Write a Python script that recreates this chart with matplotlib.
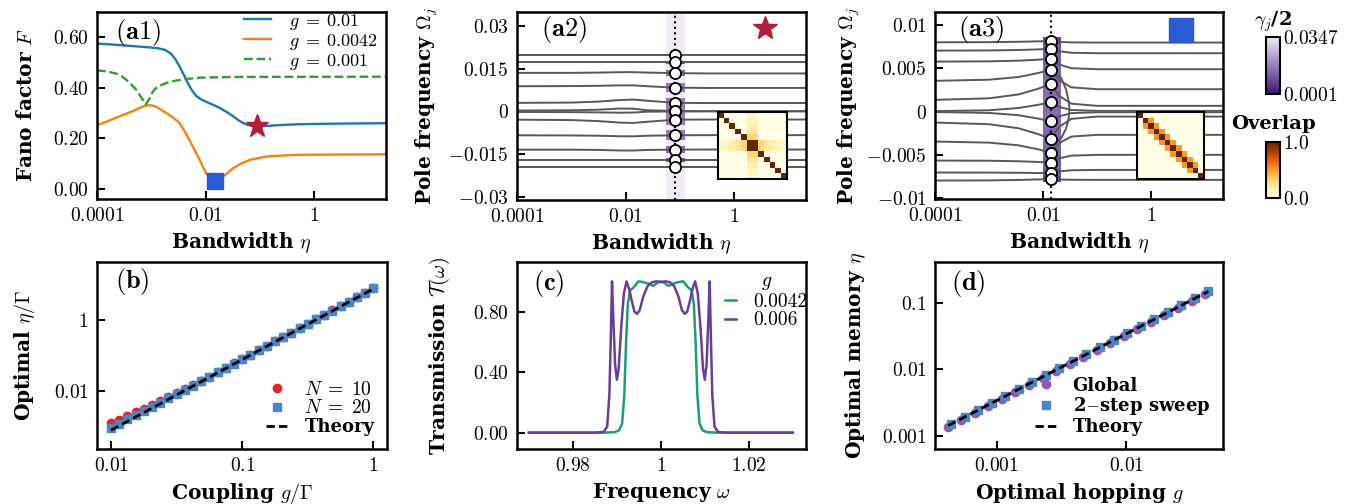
import numpy as np
import matplotlib
matplotlib.use('Agg')
import matplotlib.pyplot as plt
from matplotlib.colors import LogNorm, Normalize, LinearSegmentedColormap
from matplotlib.cm import ScalarMappable

plt.rcParams['font.family'] = 'serif'
plt.rcParams['font.serif'] = ['cmr10']
plt.rcParams['mathtext.fontset'] = 'cm'
plt.rcParams['axes.unicode_minus'] = False
plt.rcParams['axes.linewidth'] = 1.8
plt.rcParams['xtick.direction'] = 'in'
plt.rcParams['ytick.direction'] = 'in'
plt.rcParams['xtick.major.size'] = 6
plt.rcParams['ytick.major.size'] = 6
plt.rcParams['xtick.major.width'] = 1.5
plt.rcParams['ytick.major.width'] = 1.5
plt.rcParams['xtick.minor.size'] = 0
plt.rcParams['ytick.minor.size'] = 0
plt.rcParams['xtick.labelsize'] = 14
plt.rcParams['ytick.labelsize'] = 14
plt.rcParams['xtick.major.pad'] = 6
plt.rcParams['ytick.major.pad'] = 6

# ---------------- data ----------------
# (a1) Fano factor vs bandwidth
eta_g01 = [1e-4, 2e-4, 4e-4, 8e-4, 1.3e-3, 1.8e-3, 2.3e-3, 2.8e-3, 3.3e-3, 4e-3, 4.8e-3, 5.6e-3, 6.8e-3,
           8.3e-3, 0.0102, 0.013, 0.018, 0.025, 0.032, 0.04, 0.049, 0.06, 0.076, 0.1, 0.13, 0.25, 0.55, 2, 21]
F_g01 = [0.575, 0.571, 0.566, 0.561, 0.557, 0.550, 0.535, 0.512, 0.485, 0.45, 0.415, 0.39, 0.367,
         0.354, 0.345, 0.335, 0.321, 0.303, 0.288, 0.272, 0.261, 0.253, 0.249, 0.248, 0.249, 0.253, 0.256, 0.258, 0.26]
eta_g0042 = [1e-4, 1.5e-4, 2.2e-4, 3.2e-4, 4.5e-4, 6e-4, 7.9e-4, 1e-3, 1.23e-3, 1.5e-3, 1.86e-3, 2.5e-3,
             3.3e-3, 4e-3, 5e-3, 6.3e-3, 7.8e-3, 9e-3, 0.0102, 0.012, 0.0147, 0.017, 0.021, 0.026, 0.032,
             0.045, 0.065, 0.13, 0.3, 0.55, 21]
F_g0042 = [0.252, 0.266, 0.281, 0.295, 0.307, 0.32, 0.33, 0.331, 0.325, 0.314, 0.301, 0.283,
           0.261, 0.232, 0.195, 0.152, 0.115, 0.085, 0.062, 0.045, 0.032, 0.037, 0.049, 0.065, 0.082,
           0.1, 0.115, 0.128, 0.133, 0.135, 0.137]
eta_g001 = [1e-4, 1.5e-4, 2.2e-4, 2.8e-4, 3.4e-4, 4.2e-4, 5.2e-4, 6.1e-4, 6.9e-4, 7.9e-4, 9.1e-4, 1e-3,
            1.15e-3, 1.35e-3, 1.6e-3, 2.1e-3, 2.9e-3, 4.5e-3, 7.8e-3, 0.032, 21]
F_g001 = [0.469, 0.465, 0.457, 0.447, 0.433, 0.415, 0.394, 0.372, 0.354, 0.334, 0.354, 0.375,
          0.394, 0.405, 0.413, 0.422, 0.429, 0.435, 0.44, 0.443, 0.444]
star_pt = (0.087, 0.248)
square_pt = (0.0147, 0.033)

# (a2) pole trajectories, g = 0.01
eta_nodes_a2 = [1e-4, 1e-3, 3.16e-3, 7.94e-3, 0.0141, 0.0251, 0.082, 0.316, 22.4]
poles_a2 = [
    [19.7, 19.7, 19.7, 19.7, 19.7, 19.7, 19.7, 19.7, 19.7],
    [17.2, 17.2, 17.2, 17.2, 17.2, 17.2, 17.2, 17.2, 17.2],
    [13.5, 13.5, 13.6, 13.75, 13.75, 13.6, 13.4, 13.3, 13.3],
    [8.8, 8.85, 8.95, 9.1, 9.1, 8.8, 8.3, 8.2, 8.2],
    [2.95, 3.05, 3.4, 3.95, 4.1, 3.7, 2.95, 2.9, 2.9],
    [0.25, 0.35, 0.55, 0.95, 0.9, 0.35, 0.1, 0.0, 0.0],
    [-0.25, -0.3, -0.4, -0.5, -0.45, -0.15, -0.1, 0.0, 0.0],
    [-2.95, -3.1, -3.45, -4.0, -4.1, -3.7, -2.95, -2.9, -2.9],
    [-8.45, -8.5, -8.6, -8.8, -8.8, -8.6, -8.45, -8.4, -8.4],
    [-13.5, -13.5, -13.6, -13.8, -13.8, -13.6, -13.5, -13.45, -13.45],
    [-17.25, -17.25, -17.25, -17.25, -17.25, -17.25, -17.25, -17.25, -17.25],
    [-19.7, -19.7, -19.7, -19.7, -19.7, -19.7, -19.7, -19.7, -19.7],
]
eta_opt_a2 = 0.082
omega_a2 = [19.7, 17.2, 13.4, 8.3, 2.95, 0.1, 0.0, -2.95, -8.45, -13.5, -17.25, -19.7]
halfgamma_a2 = [0.0003, 0.0006, 0.0010, 0.0017, 0.0018, 0.0019, 0.0347, 0.0018, 0.0017, 0.0012, 0.0007, 0.0003]
star_a2 = (3.75, 0.0294)

# (a3) pole trajectories, g = 0.0042
eta_nodes_a3 = [1e-4, 1e-3, 3.5e-3, 7.9e-3, 0.0137, 0.02, 0.033, 0.1, 22]
poles_a3 = [
    [8.0, 8.02, 8.06, 8.11, 8.16, 8.05, 7.99, 7.97, 7.97],
    [7.04, 7.06, 7.11, 7.18, 7.24, 6.97, 6.79, 6.74, 6.74],
    [5.77, 5.8, 5.88, 5.99, 6.08, 5.43, 5.01, 4.89, 4.89],
    [3.55, 3.68, 3.99, 4.44, 4.82, 3.59, 2.8, 2.58, 2.58],
    [1.35, 1.53, 1.98, 2.62, 3.16, 1.79, 0.91, 0.66, 0.66],
    [0.05, 0.15, 0.41, 0.77, 1.08, 0.53, 0.18, 0.08, 0.08],
    [-0.05, -0.16, -0.42, -0.8, -1.12, -0.55, -0.18, -0.08, -0.08],
    [-1.27, -1.46, -1.93, -2.59, -3.16, -1.74, -0.84, -0.58, -0.58],
    [-3.46, -3.59, -3.9, -4.35, -4.73, -3.61, -2.89, -2.69, -2.69],
    [-5.66, -5.68, -5.74, -5.82, -5.89, -5.4, -5.09, -5.0, -5.0],
    [-7.04, -7.05, -7.07, -7.1, -7.12, -6.91, -6.78, -6.74, -6.74],
    [-7.97, -7.95, -7.9, -7.84, -7.78, -7.84, -7.88, -7.89, -7.89],
]
arc_eta_a3 = [0.0158, 0.0214, 0.0263, 0.0295, 0.0305, 0.0295, 0.0263, 0.0214, 0.0162]
arc_omega_a3 = [4.6, 3.9, 2.6, 1.2, 0.3, -0.8, -2.0, -3.1, -3.65]
eta_opt_a3 = 0.0137
omega_a3 = [8.16, 7.24, 6.08, 4.82, 3.16, 1.08, -1.12, -3.16, -4.73, -5.89, -7.12, -7.78]
halfgamma_a3 = [0.0004, 0.0006, 0.0007, 0.0009, 0.0011, 0.0011, 0.0011, 0.0010, 0.0008, 0.0007, 0.0006, 0.0003]
square_a3 = (3.54, 0.00943)

# overlap matrices (insets)
cross_a2 = [0.1, 0.13, 0.17, 0.22, 0.3, 1.0, 1.0, 0.3, 0.22, 0.17, 0.13, 0.1]
offdiag_a3 = [0, 0.5, 0.5, 0.5, 0.5, 0.5, 0.5, 0.5, 0.5, 0.5, 0]

# (b) optimal bandwidth vs coupling
g_b = [0.0100, 0.01155, 0.01334, 0.0154, 0.01778, 0.02054, 0.02371, 0.02738, 0.03162, 0.03652, 0.04217,
       0.0487, 0.05623, 0.06494, 0.07499, 0.0866, 0.1, 0.1155, 0.1334, 0.154, 0.1778, 0.2054, 0.2371,
       0.2738, 0.3162, 0.3652, 0.4217, 0.487, 0.5623, 0.6494, 0.7499, 0.866, 1.0]
eta_N10 = [0.00118, 0.00150, 0.00192, 0.00245, 0.00312, 0.00401, 0.00513, 0.00661, 0.00851, 0.0111, 0.0145,
           0.0189, 0.0248, 0.0330, 0.0440, 0.0587, 0.0783, 0.104, 0.139, 0.186, 0.247, 0.330, 0.440,
           0.587, 0.783, 1.04, 1.39, 1.86, 2.47, 3.30, 4.40, 5.87, 7.83]
eta_N20 = [0.00090, 0.00117, 0.00153, 0.00200, 0.00262, 0.00346, 0.00457, 0.00604, 0.00798, 0.0105, 0.0140,
           0.0186, 0.0247, 0.0329, 0.0438, 0.0584, 0.0778, 0.104, 0.138, 0.184, 0.246, 0.328, 0.437,
           0.583, 0.777, 1.04, 1.38, 1.84, 2.46, 3.28, 4.37, 5.83, 7.77]
g_theory_b = [0.01, 1.0]
eta_theory_b = [0.00076, 7.6]

# (c) transmission spectra
omega_c1 = [0.970, 0.987, 0.9895, 0.9905, 0.9912, 0.9917, 0.9921, 0.9925, 0.9930, 0.9938, 0.9949, 0.9960,
            0.9972, 0.9983, 0.9992, 1.0000, 1.0008, 1.0017, 1.0028, 1.0040, 1.0051, 1.0062, 1.0070,
            1.0075, 1.0079, 1.0083, 1.0088, 1.0095, 1.0105, 1.013, 1.030]
T_c1 = [0.0, 0.0, 0.003, 0.015, 0.06, 0.25, 0.60, 0.85, 0.94, 0.96, 1.0, 0.995, 0.985, 0.97, 0.99, 1.0,
        0.99, 0.97, 0.985, 0.995, 1.0, 0.96, 0.94, 0.85, 0.60, 0.25, 0.06, 0.015, 0.003, 0.0, 0.0]
omega_c2 = [0.970, 0.985, 0.9870, 0.9878, 0.9883, 0.9886, 0.9889, 0.9892, 0.9896, 0.9900, 0.9904, 0.9910,
            0.9916, 0.9922, 0.9928, 0.9934, 0.9940, 0.9946, 0.9952, 0.9960, 0.9970, 0.9980, 0.9990,
            1.0000, 1.0010, 1.0020, 1.0030, 1.0040, 1.0048, 1.0054, 1.0060, 1.0066, 1.0072, 1.0078,
            1.0084, 1.0090, 1.0096, 1.0100, 1.0104, 1.0108, 1.0111, 1.0114, 1.0117, 1.0122, 1.0130,
            1.015, 1.030]
T_c2 = [0.0, 0.0, 0.005, 0.04, 0.25, 0.60, 1.0, 0.75, 0.45, 0.35, 0.42, 0.70, 0.92, 1.0, 0.95, 0.87, 0.80,
        0.785, 0.81, 0.90, 0.97, 0.995, 1.0, 0.995, 1.0, 0.995, 0.97, 0.90, 0.81, 0.785, 0.80, 0.87, 0.95,
        1.0, 0.92, 0.70, 0.42, 0.35, 0.45, 0.75, 1.0, 0.60, 0.25, 0.04, 0.005, 0.0, 0.0]

# (d) optimal memory vs hopping
g_global = [4.19e-4, 5.33e-4, 6.78e-4, 8.63e-4, 1.096e-3, 1.396e-3, 1.778e-3, 2.265e-3, 2.88e-3, 3.66e-3,
            4.66e-3, 5.93e-3, 7.55e-3, 9.62e-3, 0.01222, 0.01556, 0.0198, 0.0252, 0.0321, 0.0409]
eta_global = [0.00138, 0.00176, 0.00224, 0.00285, 0.00362, 0.00461, 0.00587, 0.00747, 0.00950, 0.01208,
              0.01538, 0.01957, 0.0249, 0.0317, 0.0403, 0.0513, 0.0653, 0.0832, 0.1059, 0.1350]
g_sweep = [4.436e-4, 5.65e-4, 7.18e-4, 9.14e-4, 1.161e-3, 1.479e-3, 1.884e-3, 2.399e-3, 3.05e-3, 3.88e-3,
           4.94e-3, 6.28e-3, 8.00e-3, 0.01019, 0.01294, 0.01648, 0.0210, 0.0267, 0.0340, 0.0433]
eta_sweep = [0.00153, 0.00195, 0.00248, 0.00315, 0.00401, 0.00510, 0.00650, 0.00828, 0.01052, 0.01339,
             0.01704, 0.02167, 0.0276, 0.0352, 0.0446, 0.0569, 0.0725, 0.0921, 0.1173, 0.1494]
g_theory_d = [4.2e-4, 0.0433]
eta_theory_d = [0.00143, 0.147]

# ---------------- figure ----------------
W, H = 1354, 504
fig = plt.figure(figsize=(W / 100, H / 100), dpi=100)


def box(x0, x1, y0, y1):
    return [x0 / W, 1 - y1 / H, (x1 - x0) / W, (y1 - y0) / H]


BF = 'DejaVu Serif'
bold = dict(family=BF, fontweight='bold', fontsize=14.5)
leg_bold = dict(family=BF, weight='bold', size=13)
plabel = dict(fontsize=19, va='center', ha='left')

gam_cmap = LinearSegmentedColormap.from_list('gam', ['#3d1470', '#7b5aa6', '#b5a3d3', '#f1ebf8'])
gam_norm = LogNorm(1e-4, 0.0347)
line_col = '#585858'

ax1 = fig.add_axes(box(97, 386, 12, 199))
ax2 = fig.add_axes(box(517, 806, 12, 200))
ax3 = fig.add_axes(box(935, 1223, 12, 199))
axb = fig.add_axes(box(97, 387, 262, 449))
axc = fig.add_axes(box(517, 806, 262, 449))
axd = fig.add_axes(box(935, 1223, 262, 449))

# (a1)
ax1.plot(eta_g01, F_g01, color='#1f77b4', lw=1.7, label=r'$g\;=\;0.01$')
ax1.plot(eta_g0042, F_g0042, color='#ff7f0e', lw=1.7, label=r'$g\;=\;0.0042$')
ax1.plot(eta_g001, F_g001, color='#2ca02c', lw=1.7, ls='--', label=r'$g\;=\;0.001$')
ax1.plot(*star_pt, marker='*', ms=17, color='#b31e3d', zorder=5)
ax1.plot(*square_pt, marker='s', ms=11.5, color='#2a5bd7', zorder=5)
ax1.set_xscale('log')
ax1.set_xlim(1e-4, 21)
ax1.set_ylim(-0.04, 0.70)
ax1.set_yticks([0, 0.2, 0.4, 0.6], labels=['$0.00$', '$0.20$', '$0.40$', '$0.60$'])
ax1.legend(loc='upper right', bbox_to_anchor=(1.01, 1.06), frameon=False, fontsize=13, handlelength=1.5,
           labelspacing=0.0, borderaxespad=0.2, handletextpad=1.0)
ax1.set_ylabel(r'Fano factor $F$', labelpad=12, **bold)
ax1.text(0.062, 0.893, r'$(\mathbf{a1})$', transform=ax1.transAxes, **plabel)


def pole_panel(ax, eta_nodes, poles, eta_opt, omega, halfgamma, band):
    order = np.argsort(halfgamma)[::-1]
    for j in order:
        ax.fill_between([eta_opt / band[0], eta_opt * band[1]],
                        omega[j] * 1e-3 - halfgamma[j], omega[j] * 1e-3 + halfgamma[j],
                        color=gam_cmap(gam_norm(halfgamma[j])), lw=0, zorder=1)
    for p in poles:
        ax.plot(eta_nodes, np.array(p) * 1e-3, color=line_col, lw=1.4, zorder=2)
    ax.axvline(eta_opt, color='k', ls=':', lw=1.5, zorder=3)
    ax.plot([eta_opt] * len(omega), np.array(omega) * 1e-3, 'o', ms=8, mfc='white', mec='k',
            mew=1.3, zorder=4)
    ax.set_xscale('log')
    ax.set_xlim(1e-4, 21)


pole_panel(ax2, eta_nodes_a2, poles_a2, eta_opt_a2, omega_a2, halfgamma_a2, (1.5, 1.5))
ax2.plot(*star_a2, marker='*', ms=18, color='#b31e3d', zorder=5)
ax2.set_ylim(-0.0312, 0.0349)
ax2.set_yticks([-0.03, -0.015, 0, 0.015, 0.03],
               labels=['$-0.03$', '$-0.015$', '$0$', '$0.015$', '$0.03$'])
ax2.text(0.082, 0.905, r'$(\mathbf{a2})$', transform=ax2.transAxes, **plabel)

pole_panel(ax3, eta_nodes_a3, poles_a3, eta_opt_a3, omega_a3, halfgamma_a3, (1.4, 1.57))
ax3.plot(arc_eta_a3, np.array(arc_omega_a3) * 1e-3, color=line_col, lw=1.4, zorder=2)
ax3.plot(*square_a3, marker='s', ms=17, color='#2a5bd7', zorder=5)
ax3.set_ylim(-0.0101, 0.0115)
ax3.set_yticks([-0.01, -0.005, 0, 0.005, 0.01],
               labels=['$-0.01$', '$-0.005$', '$0$', '$0.005$', '$0.01$'])
ax3.text(0.081, 0.905, r'$(\mathbf{a3})$', transform=ax3.transAxes, **plabel)

for ax in (ax1, ax2, ax3):
    ax.set_xticks([1e-4, 1e-2, 1], labels=['$0.0001$', '$0.01$', '$1$'])
    ax.minorticks_off()
    ax.set_xlabel(r'Bandwidth $\eta$', **bold)
ax2.set_ylabel(r'Pole frequency $\Omega_j$', labelpad=6, **bold)
ax3.set_ylabel(r'Pole frequency $\Omega_j$', labelpad=3, **bold)

# insets
n = 12
M2 = np.eye(n)
M2[5, :] = np.maximum(M2[5, :], cross_a2)
M2[6, :] = np.maximum(M2[6, :], cross_a2)
M2[:, 5] = np.maximum(M2[:, 5], cross_a2)
M2[:, 6] = np.maximum(M2[:, 6], cross_a2)
M3 = np.eye(n)
for i, v in enumerate(offdiag_a3):
    M3[i, i + 1] = v
    M3[i + 1, i] = v
for M, bx in ((M2, box(718, 787, 112, 179)), (M3, box(1137, 1204, 112, 179))):
    ins = fig.add_axes(bx)
    ins.imshow(M, cmap='YlOrBr', vmin=0, vmax=1, interpolation='nearest', aspect='auto')
    ins.set_xticks([])
    ins.set_yticks([])
    for s in ins.spines.values():
        s.set_linewidth(1.5)

# colorbars
cax1 = fig.add_axes(box(1266, 1280, 37, 94))
cb1 = fig.colorbar(ScalarMappable(norm=gam_norm, cmap=gam_cmap), cax=cax1)
cb1.ax.minorticks_off()
cb1.set_ticks([1e-4, 0.0347], labels=['$0.0001$', '$0.0347$'])
cax1.set_title(r'$\gamma_j$' + '/2', family=BF, fontweight='bold', fontsize=14, pad=8)
cax2 = fig.add_axes(box(1266, 1280, 142, 198))
cb2 = fig.colorbar(ScalarMappable(norm=Normalize(0, 1), cmap='YlOrBr'), cax=cax2)
cb2.set_ticks([0, 1], labels=['$0.0$', '$1.0$'])
cax2.set_title('Overlap', family=BF, fontweight='bold', fontsize=14, pad=9)
for cb in (cb1, cb2):
    cb.ax.tick_params(length=0, pad=2, labelsize=14)
    cb.outline.set_linewidth(1.5)

# (b)
axb.plot(g_b, eta_N10, 'o', color='#e8202a', ms=6, label=r'$N\;=\;10$')
axb.plot(g_b, eta_N20, 's', color='#4a87c7', ms=6, label=r'$N\;=\;20$')
axb.plot(g_theory_b, eta_theory_b, color='k', lw=2, ls=(0, (3, 1.5)), label='Theory')
axb.set_xscale('log')
axb.set_yscale('log')
axb.set_xlim(0.00782, 1.27)
axb.set_ylim(2.24e-4, 43.6)
axb.set_xticks([0.01, 0.1, 1], labels=['$0.01$', '$0.1$', '$1$'])
axb.set_yticks([0.01, 1], labels=['$0.01$', '$1$'])
axb.minorticks_off()
leg = axb.legend(loc='lower right', frameon=False, prop=leg_bold, handlelength=1.2,
                 labelspacing=0.05, borderaxespad=0.3, handletextpad=0.9)
for t in leg.get_texts()[:2]:
    t.set_fontsize(14)
axb.set_xlabel(r'Coupling $g/\Gamma$', **bold)
axb.set_ylabel(r'Optimal $\eta/\Gamma$', labelpad=12, **bold)
axb.text(0.062, 0.895, r'$(\mathbf{b})$', transform=axb.transAxes, **plabel)

# (c)
axc.plot(omega_c1, T_c1, color='#1b9e77', lw=1.8, label='0.0042')
axc.plot(omega_c2, T_c2, color='#6a3d9a', lw=1.8, label='0.006')
axc.set_xlim(0.9673, 1.033)
axc.set_ylim(-0.108, 1.128)
axc.set_xticks([0.98, 1, 1.02], labels=['$0.98$', '$1$', '$1.02$'])
axc.set_yticks([0, 0.4, 0.8], labels=['$0.00$', '$0.40$', '$0.80$'])
axc.legend(loc='upper right', bbox_to_anchor=(1.04, 1.0), frameon=False, fontsize=14, title='$g$',
           title_fontsize=14, handlelength=0.6, labelspacing=0.05, borderaxespad=0.1, handletextpad=0.9)
axc.set_xlabel(r'Frequency $\omega$', **bold)
axc.set_ylabel(r'Transmission $\mathcal{T}(\omega)$', labelpad=15, **bold)
axc.text(0.056, 0.886, r'$(\mathbf{c})$', transform=axc.transAxes, **plabel)

# (d)
axd.plot(g_global, eta_global, 'o', color='#9b55b5', ms=6, label='Global')
axd.plot(g_sweep, eta_sweep, 's', color='#4a87c7', ms=6, label='2$-$step sweep')
axd.plot(g_theory_d, eta_theory_d, color='k', lw=2, ls=(0, (3, 1.5)), label='Theory')
axd.set_xscale('log')
axd.set_yscale('log')
axd.set_xlim(3.33e-4, 0.0562)
axd.set_ylim(6.38e-4, 0.407)
axd.set_xticks([0.001, 0.01], labels=['$0.001$', '$0.01$'])
axd.set_yticks([0.001, 0.01, 0.1], labels=['$0.001$', '$0.01$', '$0.1$'])
axd.minorticks_off()
axd.legend(loc='lower right', frameon=False, prop=leg_bold, handlelength=1.2,
           labelspacing=0.05, borderaxespad=0.3, handletextpad=0.9)
axd.set_xlabel(r'Optimal hopping $g$', **bold)
axd.set_ylabel(r'Optimal memory $\eta$', labelpad=10, **bold)
axd.text(0.055, 0.886, r'$(\mathbf{d})$', transform=axd.transAxes, **plabel)

fig.savefig('out.png', dpi=100)
